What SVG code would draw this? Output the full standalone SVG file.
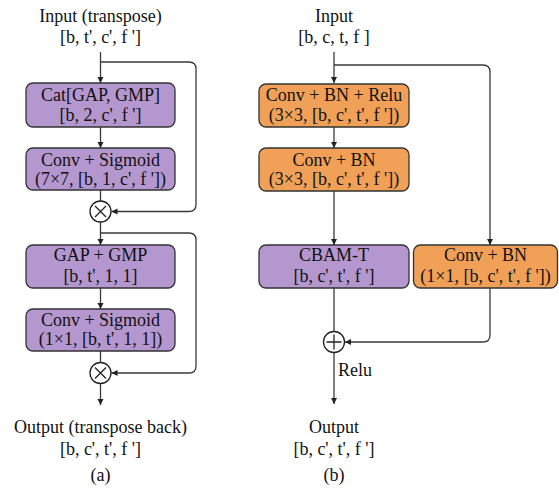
<svg xmlns="http://www.w3.org/2000/svg" width="559" height="489" viewBox="0 0 559 489">
<style>
text{font-family:"Liberation Serif","Times New Roman",serif;font-size:18px;fill:#111;text-anchor:middle}
.p{fill:#b597cf;stroke:#333;stroke-width:1.3}
.o{fill:#f0a057;stroke:#333;stroke-width:1.3}
.c{fill:none;stroke:#3a3a3a;stroke-width:1.3}
.op{fill:#fff;stroke:#222;stroke-width:1.3}
.opl{fill:none;stroke:#222;stroke-width:1.3}
</style>
<defs>
<marker id="ah" markerWidth="7" markerHeight="7" refX="6" refY="3" orient="auto" markerUnits="userSpaceOnUse">
<path d="M0,0 L6,3 L0,6 z" fill="#222"/>
</marker>
</defs>
<g id="connectors">
<path class="c" d="M100.5 52 V83" marker-end="url(#ah)"/>
<path class="c" d="M100.5 62 H189 Q196 62 196 69 V204.5 Q196 211.5 189 211.5 H111.5" marker-end="url(#ah)"/>
<path class="c" d="M100.5 127 V148" marker-end="url(#ah)"/>
<path class="c" d="M100.5 190 V201"/>
<path class="c" d="M100.5 222 V245" marker-end="url(#ah)"/>
<path class="c" d="M100.5 233 H189 Q196 233 196 240 V366 Q196 373 189 373 H111.5" marker-end="url(#ah)"/>
<path class="c" d="M100.5 288 V309" marker-end="url(#ah)"/>
<path class="c" d="M100.5 351 V362.5"/>
<path class="c" d="M100.5 383.5 V405" marker-end="url(#ah)"/>
<path class="c" d="M334 52 V83" marker-end="url(#ah)"/>
<path class="c" d="M334 65 H483 Q490 65 490 72 V245" marker-end="url(#ah)"/>
<path class="c" d="M334 127 V148" marker-end="url(#ah)"/>
<path class="c" d="M334 191 V245" marker-end="url(#ah)"/>
<path class="c" d="M334 288 V331.5"/>
<path class="c" d="M490 288 V335 Q490 342 483 342 H345" marker-end="url(#ah)"/>
<path class="c" d="M334 353 V404" marker-end="url(#ah)"/>
</g>
<g id="input_a"><text x="100.5" y="22">Input (transpose)</text><text x="100.5" y="43">[b, t', c', f ']</text></g>
<g id="cat_gap_gmp"><rect class="p" x="26" y="83" width="149" height="44" rx="7"/><text x="100.5" y="100.5">Cat[GAP, GMP]</text><text x="100.5" y="120.5">[b, 2, c', f ']</text></g>
<g id="conv_sig_7"><rect class="p" x="26" y="148" width="149" height="42" rx="7"/><text x="100.5" y="165.5">Conv + Sigmoid</text><text x="100.5" y="185">(7×7, [b, 1, c', f '])</text></g>
<g id="mul1"><circle class="op" cx="100.5" cy="211.5" r="10.5"/><path class="opl" d="M95 206 L106 217 M106 206 L95 217"/></g>
<g id="gap_gmp"><rect class="p" x="26" y="245" width="149" height="43" rx="7"/><text x="100.5" y="261">GAP + GMP</text><text x="100.5" y="281.5">[b, t', 1, 1]</text></g>
<g id="conv_sig_1"><rect class="p" x="26" y="309" width="149" height="42" rx="7"/><text x="100.5" y="325.5">Conv + Sigmoid</text><text x="100.5" y="345">(1×1, [b, t', 1, 1])</text></g>
<g id="mul2"><circle class="op" cx="100.5" cy="373" r="10.5"/><path class="opl" d="M95 367.5 L106 378.5 M106 367.5 L95 378.5"/></g>
<g id="output_a"><text x="100.5" y="433">Output (transpose back)</text><text x="100.5" y="455">[b, c', t', f ']</text><text x="100.5" y="481">(a)</text></g>
<g id="input_b"><text x="334" y="22">Input</text><text x="334" y="43">[b, c, t, f ]</text></g>
<g id="conv_bn_relu"><rect class="o" x="259" y="84" width="150" height="43" rx="7"/><text x="334" y="100.5">Conv + BN + Relu</text><text x="334" y="120.5">(3×3, [b, c', t', f '])</text></g>
<g id="conv_bn_3"><rect class="o" x="259" y="148" width="150" height="43" rx="7"/><text x="334" y="165.5">Conv + BN</text><text x="334" y="185">(3×3, [b, c', t', f '])</text></g>
<g id="cbam_t"><rect class="p" x="259" y="245" width="150" height="43" rx="7"/><text x="334" y="261">CBAM-T</text><text x="334" y="281.5">[b, c', t', f ']</text></g>
<g id="conv_bn_1"><rect class="o" x="413.5" y="245" width="144" height="43" rx="7"/><text x="485.5" y="261">Conv + BN</text><text x="485.5" y="281.5">(1×1, [b, c', t', f '])</text></g>
<g id="add"><circle class="op" cx="334" cy="342" r="10.5"/><path class="opl" d="M326.5 342 H341.5 M334 334.5 V349.5"/></g>
<g id="relu_label"><text x="338" y="376" style="text-anchor:start">Relu</text></g>
<g id="output_b"><text x="334" y="433">Output</text><text x="334" y="455">[b, c', t', f ']</text><text x="334" y="481">(b)</text></g>
</svg>
